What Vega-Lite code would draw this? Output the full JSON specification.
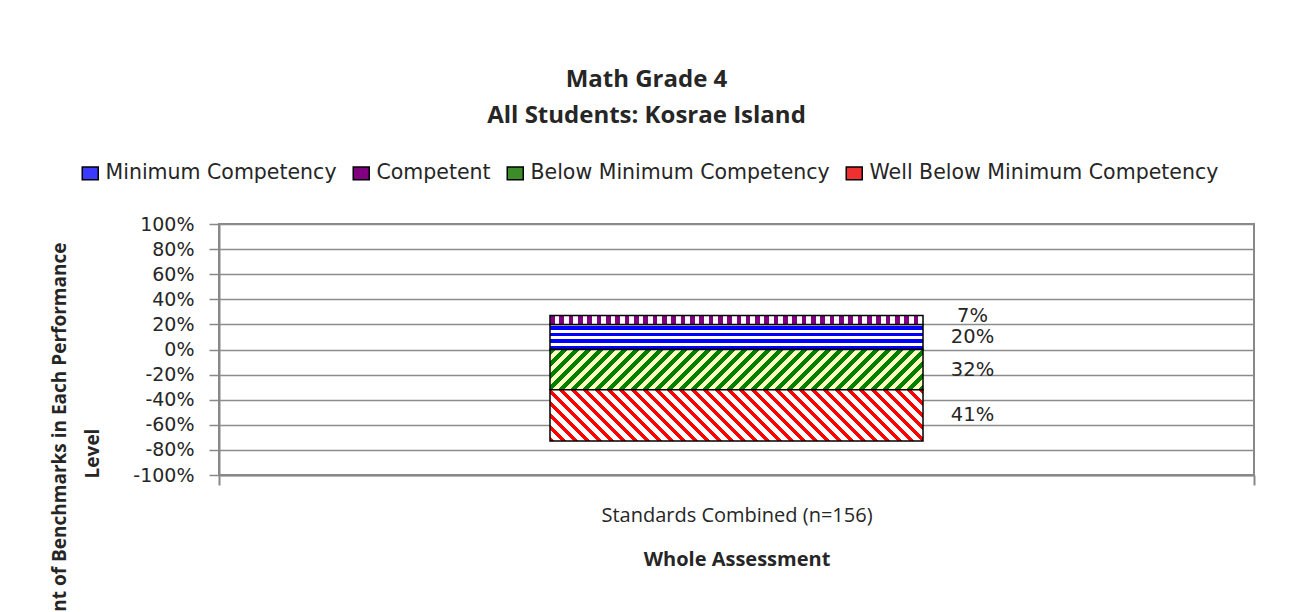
{
 "$schema": "https://vega.github.io/schema/vega-lite/v6.json",
 "width": 1035,
 "height": 251,
 "autosize": "none",
 "padding": {"left": 219, "top": 224, "right": 35, "bottom": 137},
 "background": "white",
 "title": {"text": ["Math Grade 4", "All Students: Kosrae Island"], "font": "Open Sans", "fontSize": 24, "fontWeight": "bold", "lineHeight": 36, "color": "#262626", "anchor": "middle", "dx": -90, "dy": -25, "offset": 10},
 "data": {"values": [
  {"category": "Standards Combined (n=156)", "level": "Minimum Competency", "value": 0.20, "pct": 0.20, "ord": 1},
  {"category": "Standards Combined (n=156)", "level": "Competent", "value": 0.07, "pct": 0.07, "ord": 2},
  {"category": "Standards Combined (n=156)", "level": "Below Minimum Competency", "value": -0.32, "pct": 0.32, "ord": 3},
  {"category": "Standards Combined (n=156)", "level": "Well Below Minimum Competency", "value": -0.41, "pct": 0.41, "ord": 4}
 ]},
 "encoding": {
  "x": {"field": "category", "type": "nominal", "scale": {"paddingInner": 0, "paddingOuter": 0},
   "axis": {"title": "Whole Assessment", "titleFont": "Open Sans", "titleFontSize": 20, "titleFontWeight": "bold", "titleColor": "#262626", "titleY": 74.5, "titleBaseline": "top", "labelAngle": 0, "labelFont": "Open Sans", "labelFontSize": 20, "labelColor": "#262626", "labelPadding": 20.5, "labelLimit": 600, "tickBand": "extent", "tickSize": 10, "tickColor": "#888", "tickWidth": 2, "domainColor": "#888", "domainWidth": 2, "grid": false}},
  "order": {"field": "ord", "type": "quantitative"}
 },
 "layer": [
  {
   "mark": {"type": "bar", "width": {"band": 0.3604}, "stroke": "black", "strokeWidth": 1.5},
   "encoding": {
    "y": {"field": "value", "type": "quantitative", "stack": "zero", "scale": {"domain": [-1, 1]},
     "axis": {"values": [-1, -0.8, -0.6, -0.4, -0.2, 0, 0.2, 0.4, 0.6, 0.8, 1], "labelExpr": "(datum.value < -0.001 ? '-' : '') + format(abs(datum.value), '.0%')", "labelFont": "DejaVu Sans", "labelFontSize": 19, "labelColor": "#262626", "labelPadding": 15, "labelOverlap": false, "labelFlush": false, "tickSize": 10, "tickColor": "#888", "tickWidth": 1.5, "domainColor": "#888", "domainWidth": 2, "grid": true, "gridColor": "#8c8c8c", "gridWidth": 1.5,
      "title": ["Percent of Benchmarks in Each Performance", "Level"], "titleFont": "Open Sans", "titleFontSize": 19, "titleFontWeight": "bold", "titleColor": "#262626", "titleLineHeight": 33, "titleAngle": -90, "titleAlign": "center", "titleBaseline": "middle", "titleX": -160, "titleY": 229}},
    "fill": {"field": "level", "type": "nominal",
     "scale": {"domain": ["Minimum Competency", "Competent", "Below Minimum Competency", "Well Below Minimum Competency"], "range": ["#3b3bff", "#800080", "#3c8c28", "#f03030"]},
     "legend": {"orient": "none", "legendX": -139, "legendY": -61, "direction": "horizontal", "title": null, "symbolType": "M-1,-0.8H1V0.8H-1Z", "symbolSize": 256, "symbolStrokeColor": "black", "symbolStrokeWidth": 1.5, "labelFont": "DejaVu Sans", "labelFontSize": 20.5, "labelColor": "#262626", "labelLimit": 400, "labelOffset": 5, "columnPadding": 13, "padding": 0},
     "condition": [
      {"test": "datum.level === 'Minimum Competency'", "value": {"gradient": "linear", "x1": 0, "y1": 0, "x2": 0, "y2": 1, "stops": [
       {"offset":0,"color":"white"},{"offset":0.08,"color":"white"},{"offset":0.08,"color":"blue"},{"offset":0.22,"color":"blue"},{"offset":0.22,"color":"white"},{"offset":0.34,"color":"white"},{"offset":0.34,"color":"blue"},{"offset":0.48,"color":"blue"},{"offset":0.48,"color":"white"},{"offset":0.6,"color":"white"},{"offset":0.6,"color":"blue"},{"offset":0.74,"color":"blue"},{"offset":0.74,"color":"white"},{"offset":0.86,"color":"white"},{"offset":0.86,"color":"blue"},{"offset":1,"color":"blue"}]}},
      {"test": "datum.level === 'Competent'", "value": {"gradient": "linear", "x1": 0, "y1": 0, "x2": 1, "y2": 0, "stops": [
       {"offset":0,"color":"purple"},{"offset":0.0125,"color":"purple"},{"offset":0.0125,"color":"white"},{"offset":0.025,"color":"white"},
       {"offset":0.025,"color":"purple"},{"offset":0.0375,"color":"purple"},{"offset":0.0375,"color":"white"},{"offset":0.05,"color":"white"},
       {"offset":0.05,"color":"purple"},{"offset":0.0625,"color":"purple"},{"offset":0.0625,"color":"white"},{"offset":0.075,"color":"white"},
       {"offset":0.075,"color":"purple"},{"offset":0.0875,"color":"purple"},{"offset":0.0875,"color":"white"},{"offset":0.1,"color":"white"},
       {"offset":0.1,"color":"purple"},{"offset":0.1125,"color":"purple"},{"offset":0.1125,"color":"white"},{"offset":0.125,"color":"white"},
       {"offset":0.125,"color":"purple"},{"offset":0.1375,"color":"purple"},{"offset":0.1375,"color":"white"},{"offset":0.15,"color":"white"},
       {"offset":0.15,"color":"purple"},{"offset":0.1625,"color":"purple"},{"offset":0.1625,"color":"white"},{"offset":0.175,"color":"white"},
       {"offset":0.175,"color":"purple"},{"offset":0.1875,"color":"purple"},{"offset":0.1875,"color":"white"},{"offset":0.2,"color":"white"},
       {"offset":0.2,"color":"purple"},{"offset":0.2125,"color":"purple"},{"offset":0.2125,"color":"white"},{"offset":0.225,"color":"white"},
       {"offset":0.225,"color":"purple"},{"offset":0.2375,"color":"purple"},{"offset":0.2375,"color":"white"},{"offset":0.25,"color":"white"},
       {"offset":0.25,"color":"purple"},{"offset":0.2625,"color":"purple"},{"offset":0.2625,"color":"white"},{"offset":0.275,"color":"white"},
       {"offset":0.275,"color":"purple"},{"offset":0.2875,"color":"purple"},{"offset":0.2875,"color":"white"},{"offset":0.3,"color":"white"},
       {"offset":0.3,"color":"purple"},{"offset":0.3125,"color":"purple"},{"offset":0.3125,"color":"white"},{"offset":0.325,"color":"white"},
       {"offset":0.325,"color":"purple"},{"offset":0.3375,"color":"purple"},{"offset":0.3375,"color":"white"},{"offset":0.35,"color":"white"},
       {"offset":0.35,"color":"purple"},{"offset":0.3625,"color":"purple"},{"offset":0.3625,"color":"white"},{"offset":0.375,"color":"white"},
       {"offset":0.375,"color":"purple"},{"offset":0.3875,"color":"purple"},{"offset":0.3875,"color":"white"},{"offset":0.4,"color":"white"},
       {"offset":0.4,"color":"purple"},{"offset":0.4125,"color":"purple"},{"offset":0.4125,"color":"white"},{"offset":0.425,"color":"white"},
       {"offset":0.425,"color":"purple"},{"offset":0.4375,"color":"purple"},{"offset":0.4375,"color":"white"},{"offset":0.45,"color":"white"},
       {"offset":0.45,"color":"purple"},{"offset":0.4625,"color":"purple"},{"offset":0.4625,"color":"white"},{"offset":0.475,"color":"white"},
       {"offset":0.475,"color":"purple"},{"offset":0.4875,"color":"purple"},{"offset":0.4875,"color":"white"},{"offset":0.5,"color":"white"},
       {"offset":0.5,"color":"purple"},{"offset":0.5125,"color":"purple"},{"offset":0.5125,"color":"white"},{"offset":0.525,"color":"white"},
       {"offset":0.525,"color":"purple"},{"offset":0.5375,"color":"purple"},{"offset":0.5375,"color":"white"},{"offset":0.55,"color":"white"},
       {"offset":0.55,"color":"purple"},{"offset":0.5625,"color":"purple"},{"offset":0.5625,"color":"white"},{"offset":0.575,"color":"white"},
       {"offset":0.575,"color":"purple"},{"offset":0.5875,"color":"purple"},{"offset":0.5875,"color":"white"},{"offset":0.6,"color":"white"},
       {"offset":0.6,"color":"purple"},{"offset":0.6125,"color":"purple"},{"offset":0.6125,"color":"white"},{"offset":0.625,"color":"white"},
       {"offset":0.625,"color":"purple"},{"offset":0.6375,"color":"purple"},{"offset":0.6375,"color":"white"},{"offset":0.65,"color":"white"},
       {"offset":0.65,"color":"purple"},{"offset":0.6625,"color":"purple"},{"offset":0.6625,"color":"white"},{"offset":0.675,"color":"white"},
       {"offset":0.675,"color":"purple"},{"offset":0.6875,"color":"purple"},{"offset":0.6875,"color":"white"},{"offset":0.7,"color":"white"},
       {"offset":0.7,"color":"purple"},{"offset":0.7125,"color":"purple"},{"offset":0.7125,"color":"white"},{"offset":0.725,"color":"white"},
       {"offset":0.725,"color":"purple"},{"offset":0.7375,"color":"purple"},{"offset":0.7375,"color":"white"},{"offset":0.75,"color":"white"},
       {"offset":0.75,"color":"purple"},{"offset":0.7625,"color":"purple"},{"offset":0.7625,"color":"white"},{"offset":0.775,"color":"white"},
       {"offset":0.775,"color":"purple"},{"offset":0.7875,"color":"purple"},{"offset":0.7875,"color":"white"},{"offset":0.8,"color":"white"},
       {"offset":0.8,"color":"purple"},{"offset":0.8125,"color":"purple"},{"offset":0.8125,"color":"white"},{"offset":0.825,"color":"white"},
       {"offset":0.825,"color":"purple"},{"offset":0.8375,"color":"purple"},{"offset":0.8375,"color":"white"},{"offset":0.85,"color":"white"},
       {"offset":0.85,"color":"purple"},{"offset":0.8625,"color":"purple"},{"offset":0.8625,"color":"white"},{"offset":0.875,"color":"white"},
       {"offset":0.875,"color":"purple"},{"offset":0.8875,"color":"purple"},{"offset":0.8875,"color":"white"},{"offset":0.9,"color":"white"},
       {"offset":0.9,"color":"purple"},{"offset":0.9125,"color":"purple"},{"offset":0.9125,"color":"white"},{"offset":0.925,"color":"white"},
       {"offset":0.925,"color":"purple"},{"offset":0.9375,"color":"purple"},{"offset":0.9375,"color":"white"},{"offset":0.95,"color":"white"},
       {"offset":0.95,"color":"purple"},{"offset":0.9625,"color":"purple"},{"offset":0.9625,"color":"white"},{"offset":0.975,"color":"white"},
       {"offset":0.975,"color":"purple"},{"offset":0.9875,"color":"purple"},{"offset":0.9875,"color":"white"},{"offset":1,"color":"white"}]}},
      {"test": "datum.level === 'Below Minimum Competency'", "value": {"gradient": "linear", "x1": 0, "y1": 0, "x2": 1.272, "y2": 0.137, "stops": [
       {"offset":0,"color":"green"},{"offset":0.0125,"color":"green"},{"offset":0.0125,"color":"#ffffc0"},{"offset":0.025,"color":"#ffffc0"},
       {"offset":0.025,"color":"green"},{"offset":0.0375,"color":"green"},{"offset":0.0375,"color":"#ffffc0"},{"offset":0.05,"color":"#ffffc0"},
       {"offset":0.05,"color":"green"},{"offset":0.0625,"color":"green"},{"offset":0.0625,"color":"#ffffc0"},{"offset":0.075,"color":"#ffffc0"},
       {"offset":0.075,"color":"green"},{"offset":0.0875,"color":"green"},{"offset":0.0875,"color":"#ffffc0"},{"offset":0.1,"color":"#ffffc0"},
       {"offset":0.1,"color":"green"},{"offset":0.1125,"color":"green"},{"offset":0.1125,"color":"#ffffc0"},{"offset":0.125,"color":"#ffffc0"},
       {"offset":0.125,"color":"green"},{"offset":0.1375,"color":"green"},{"offset":0.1375,"color":"#ffffc0"},{"offset":0.15,"color":"#ffffc0"},
       {"offset":0.15,"color":"green"},{"offset":0.1625,"color":"green"},{"offset":0.1625,"color":"#ffffc0"},{"offset":0.175,"color":"#ffffc0"},
       {"offset":0.175,"color":"green"},{"offset":0.1875,"color":"green"},{"offset":0.1875,"color":"#ffffc0"},{"offset":0.2,"color":"#ffffc0"},
       {"offset":0.2,"color":"green"},{"offset":0.2125,"color":"green"},{"offset":0.2125,"color":"#ffffc0"},{"offset":0.225,"color":"#ffffc0"},
       {"offset":0.225,"color":"green"},{"offset":0.2375,"color":"green"},{"offset":0.2375,"color":"#ffffc0"},{"offset":0.25,"color":"#ffffc0"},
       {"offset":0.25,"color":"green"},{"offset":0.2625,"color":"green"},{"offset":0.2625,"color":"#ffffc0"},{"offset":0.275,"color":"#ffffc0"},
       {"offset":0.275,"color":"green"},{"offset":0.2875,"color":"green"},{"offset":0.2875,"color":"#ffffc0"},{"offset":0.3,"color":"#ffffc0"},
       {"offset":0.3,"color":"green"},{"offset":0.3125,"color":"green"},{"offset":0.3125,"color":"#ffffc0"},{"offset":0.325,"color":"#ffffc0"},
       {"offset":0.325,"color":"green"},{"offset":0.3375,"color":"green"},{"offset":0.3375,"color":"#ffffc0"},{"offset":0.35,"color":"#ffffc0"},
       {"offset":0.35,"color":"green"},{"offset":0.3625,"color":"green"},{"offset":0.3625,"color":"#ffffc0"},{"offset":0.375,"color":"#ffffc0"},
       {"offset":0.375,"color":"green"},{"offset":0.3875,"color":"green"},{"offset":0.3875,"color":"#ffffc0"},{"offset":0.4,"color":"#ffffc0"},
       {"offset":0.4,"color":"green"},{"offset":0.4125,"color":"green"},{"offset":0.4125,"color":"#ffffc0"},{"offset":0.425,"color":"#ffffc0"},
       {"offset":0.425,"color":"green"},{"offset":0.4375,"color":"green"},{"offset":0.4375,"color":"#ffffc0"},{"offset":0.45,"color":"#ffffc0"},
       {"offset":0.45,"color":"green"},{"offset":0.4625,"color":"green"},{"offset":0.4625,"color":"#ffffc0"},{"offset":0.475,"color":"#ffffc0"},
       {"offset":0.475,"color":"green"},{"offset":0.4875,"color":"green"},{"offset":0.4875,"color":"#ffffc0"},{"offset":0.5,"color":"#ffffc0"},
       {"offset":0.5,"color":"green"},{"offset":0.5125,"color":"green"},{"offset":0.5125,"color":"#ffffc0"},{"offset":0.525,"color":"#ffffc0"},
       {"offset":0.525,"color":"green"},{"offset":0.5375,"color":"green"},{"offset":0.5375,"color":"#ffffc0"},{"offset":0.55,"color":"#ffffc0"},
       {"offset":0.55,"color":"green"},{"offset":0.5625,"color":"green"},{"offset":0.5625,"color":"#ffffc0"},{"offset":0.575,"color":"#ffffc0"},
       {"offset":0.575,"color":"green"},{"offset":0.5875,"color":"green"},{"offset":0.5875,"color":"#ffffc0"},{"offset":0.6,"color":"#ffffc0"},
       {"offset":0.6,"color":"green"},{"offset":0.6125,"color":"green"},{"offset":0.6125,"color":"#ffffc0"},{"offset":0.625,"color":"#ffffc0"},
       {"offset":0.625,"color":"green"},{"offset":0.6375,"color":"green"},{"offset":0.6375,"color":"#ffffc0"},{"offset":0.65,"color":"#ffffc0"},
       {"offset":0.65,"color":"green"},{"offset":0.6625,"color":"green"},{"offset":0.6625,"color":"#ffffc0"},{"offset":0.675,"color":"#ffffc0"},
       {"offset":0.675,"color":"green"},{"offset":0.6875,"color":"green"},{"offset":0.6875,"color":"#ffffc0"},{"offset":0.7,"color":"#ffffc0"},
       {"offset":0.7,"color":"green"},{"offset":0.7125,"color":"green"},{"offset":0.7125,"color":"#ffffc0"},{"offset":0.725,"color":"#ffffc0"},
       {"offset":0.725,"color":"green"},{"offset":0.7375,"color":"green"},{"offset":0.7375,"color":"#ffffc0"},{"offset":0.75,"color":"#ffffc0"},
       {"offset":0.75,"color":"green"},{"offset":0.7625,"color":"green"},{"offset":0.7625,"color":"#ffffc0"},{"offset":0.775,"color":"#ffffc0"},
       {"offset":0.775,"color":"green"},{"offset":0.7875,"color":"green"},{"offset":0.7875,"color":"#ffffc0"},{"offset":0.8,"color":"#ffffc0"},
       {"offset":0.8,"color":"green"},{"offset":0.8125,"color":"green"},{"offset":0.8125,"color":"#ffffc0"},{"offset":0.825,"color":"#ffffc0"},
       {"offset":0.825,"color":"green"},{"offset":0.8375,"color":"green"},{"offset":0.8375,"color":"#ffffc0"},{"offset":0.85,"color":"#ffffc0"},
       {"offset":0.85,"color":"green"},{"offset":0.8625,"color":"green"},{"offset":0.8625,"color":"#ffffc0"},{"offset":0.875,"color":"#ffffc0"},
       {"offset":0.875,"color":"green"},{"offset":0.8875,"color":"green"},{"offset":0.8875,"color":"#ffffc0"},{"offset":1,"color":"#ffffc0"}]}},
      {"test": "datum.level === 'Well Below Minimum Competency'", "value": {"gradient": "linear", "x1": 0, "y1": 1, "x2": 1.263, "y2": 0.826, "stops": [
       {"offset":0,"color":"red"},{"offset":0.01,"color":"red"},{"offset":0.01,"color":"white"},{"offset":0.025,"color":"white"},
       {"offset":0.025,"color":"red"},{"offset":0.035,"color":"red"},{"offset":0.035,"color":"white"},{"offset":0.05,"color":"white"},
       {"offset":0.05,"color":"red"},{"offset":0.06,"color":"red"},{"offset":0.06,"color":"white"},{"offset":0.075,"color":"white"},
       {"offset":0.075,"color":"red"},{"offset":0.085,"color":"red"},{"offset":0.085,"color":"white"},{"offset":0.1,"color":"white"},
       {"offset":0.1,"color":"red"},{"offset":0.11,"color":"red"},{"offset":0.11,"color":"white"},{"offset":0.125,"color":"white"},
       {"offset":0.125,"color":"red"},{"offset":0.135,"color":"red"},{"offset":0.135,"color":"white"},{"offset":0.15,"color":"white"},
       {"offset":0.15,"color":"red"},{"offset":0.16,"color":"red"},{"offset":0.16,"color":"white"},{"offset":0.175,"color":"white"},
       {"offset":0.175,"color":"red"},{"offset":0.185,"color":"red"},{"offset":0.185,"color":"white"},{"offset":0.2,"color":"white"},
       {"offset":0.2,"color":"red"},{"offset":0.21,"color":"red"},{"offset":0.21,"color":"white"},{"offset":0.225,"color":"white"},
       {"offset":0.225,"color":"red"},{"offset":0.235,"color":"red"},{"offset":0.235,"color":"white"},{"offset":0.25,"color":"white"},
       {"offset":0.25,"color":"red"},{"offset":0.26,"color":"red"},{"offset":0.26,"color":"white"},{"offset":0.275,"color":"white"},
       {"offset":0.275,"color":"red"},{"offset":0.285,"color":"red"},{"offset":0.285,"color":"white"},{"offset":0.3,"color":"white"},
       {"offset":0.3,"color":"red"},{"offset":0.31,"color":"red"},{"offset":0.31,"color":"white"},{"offset":0.325,"color":"white"},
       {"offset":0.325,"color":"red"},{"offset":0.335,"color":"red"},{"offset":0.335,"color":"white"},{"offset":0.35,"color":"white"},
       {"offset":0.35,"color":"red"},{"offset":0.36,"color":"red"},{"offset":0.36,"color":"white"},{"offset":0.375,"color":"white"},
       {"offset":0.375,"color":"red"},{"offset":0.385,"color":"red"},{"offset":0.385,"color":"white"},{"offset":0.4,"color":"white"},
       {"offset":0.4,"color":"red"},{"offset":0.41,"color":"red"},{"offset":0.41,"color":"white"},{"offset":0.425,"color":"white"},
       {"offset":0.425,"color":"red"},{"offset":0.435,"color":"red"},{"offset":0.435,"color":"white"},{"offset":0.45,"color":"white"},
       {"offset":0.45,"color":"red"},{"offset":0.46,"color":"red"},{"offset":0.46,"color":"white"},{"offset":0.475,"color":"white"},
       {"offset":0.475,"color":"red"},{"offset":0.485,"color":"red"},{"offset":0.485,"color":"white"},{"offset":0.5,"color":"white"},
       {"offset":0.5,"color":"red"},{"offset":0.51,"color":"red"},{"offset":0.51,"color":"white"},{"offset":0.525,"color":"white"},
       {"offset":0.525,"color":"red"},{"offset":0.535,"color":"red"},{"offset":0.535,"color":"white"},{"offset":0.55,"color":"white"},
       {"offset":0.55,"color":"red"},{"offset":0.56,"color":"red"},{"offset":0.56,"color":"white"},{"offset":0.575,"color":"white"},
       {"offset":0.575,"color":"red"},{"offset":0.585,"color":"red"},{"offset":0.585,"color":"white"},{"offset":0.6,"color":"white"},
       {"offset":0.6,"color":"red"},{"offset":0.61,"color":"red"},{"offset":0.61,"color":"white"},{"offset":0.625,"color":"white"},
       {"offset":0.625,"color":"red"},{"offset":0.635,"color":"red"},{"offset":0.635,"color":"white"},{"offset":0.65,"color":"white"},
       {"offset":0.65,"color":"red"},{"offset":0.66,"color":"red"},{"offset":0.66,"color":"white"},{"offset":0.675,"color":"white"},
       {"offset":0.675,"color":"red"},{"offset":0.685,"color":"red"},{"offset":0.685,"color":"white"},{"offset":0.7,"color":"white"},
       {"offset":0.7,"color":"red"},{"offset":0.71,"color":"red"},{"offset":0.71,"color":"white"},{"offset":0.725,"color":"white"},
       {"offset":0.725,"color":"red"},{"offset":0.735,"color":"red"},{"offset":0.735,"color":"white"},{"offset":0.75,"color":"white"},
       {"offset":0.75,"color":"red"},{"offset":0.76,"color":"red"},{"offset":0.76,"color":"white"},{"offset":0.775,"color":"white"},
       {"offset":0.775,"color":"red"},{"offset":0.785,"color":"red"},{"offset":0.785,"color":"white"},{"offset":0.8,"color":"white"},
       {"offset":0.8,"color":"red"},{"offset":0.81,"color":"red"},{"offset":0.81,"color":"white"},{"offset":0.825,"color":"white"},
       {"offset":0.825,"color":"red"},{"offset":0.835,"color":"red"},{"offset":0.835,"color":"white"},{"offset":0.85,"color":"white"},
       {"offset":0.85,"color":"red"},{"offset":0.86,"color":"red"},{"offset":0.86,"color":"white"},{"offset":0.875,"color":"white"},
       {"offset":0.875,"color":"red"},{"offset":0.885,"color":"red"},{"offset":0.885,"color":"white"},{"offset":1,"color":"white"}]}}
     ]
    }
   }
  },
  {
   "transform": [{"filter": "datum.level !== 'Competent'"}],
   "mark": {"type": "text", "font": "DejaVu Sans", "fontSize": 19.5, "fill": "#262626", "align": "center", "baseline": "middle", "dx": 236},
   "encoding": {
    "y": {"field": "value", "type": "quantitative", "stack": "zero", "bandPosition": 0.5,
     "axis": {"values": [-1, -0.8, -0.6, -0.4, -0.2, 0, 0.2, 0.4, 0.6, 0.8, 1], "labelExpr": "(datum.value < -0.001 ? '-' : '') + format(abs(datum.value), '.0%')", "labelFont": "DejaVu Sans", "labelFontSize": 19, "labelColor": "#262626", "labelPadding": 15, "labelOverlap": false, "labelFlush": false, "tickSize": 10, "tickColor": "#888", "tickWidth": 1.5, "domainColor": "#888", "domainWidth": 2, "grid": true, "gridColor": "#8c8c8c", "gridWidth": 1.5,
      "title": ["Percent of Benchmarks in Each Performance", "Level"], "titleFont": "Open Sans", "titleFontSize": 19, "titleFontWeight": "bold", "titleColor": "#262626", "titleLineHeight": 33, "titleAngle": -90, "titleAlign": "center", "titleBaseline": "middle", "titleX": -160, "titleY": 229}},
    "text": {"field": "pct", "type": "quantitative", "format": ".0%"}
   }
  },
  {
   "transform": [
    {"stack": "value", "groupby": ["category"], "sort": [{"field": "ord", "order": "ascending"}], "as": ["v0", "v1"]},
    {"filter": "datum.level === 'Competent'"}
   ],
   "mark": {"type": "text", "font": "DejaVu Sans", "fontSize": 19.5, "fill": "#262626", "align": "center", "baseline": "middle", "dx": 236},
   "encoding": {
    "y": {"field": "v1", "type": "quantitative",
     "axis": {"values": [-1, -0.8, -0.6, -0.4, -0.2, 0, 0.2, 0.4, 0.6, 0.8, 1], "labelExpr": "(datum.value < -0.001 ? '-' : '') + format(abs(datum.value), '.0%')", "labelFont": "DejaVu Sans", "labelFontSize": 19, "labelColor": "#262626", "labelPadding": 15, "labelOverlap": false, "labelFlush": false, "tickSize": 10, "tickColor": "#888", "tickWidth": 1.5, "domainColor": "#888", "domainWidth": 2, "grid": true, "gridColor": "#8c8c8c", "gridWidth": 1.5,
      "title": ["Percent of Benchmarks in Each Performance", "Level"], "titleFont": "Open Sans", "titleFontSize": 19, "titleFontWeight": "bold", "titleColor": "#262626", "titleLineHeight": 33, "titleAngle": -90, "titleAlign": "center", "titleBaseline": "middle", "titleX": -160, "titleY": 229}},
    "text": {"field": "pct", "type": "quantitative", "format": ".0%"}
   }
  }
 ],
 "config": {"view": {"stroke": "#888", "strokeWidth": 2}, "font": "DejaVu Sans"}
}
